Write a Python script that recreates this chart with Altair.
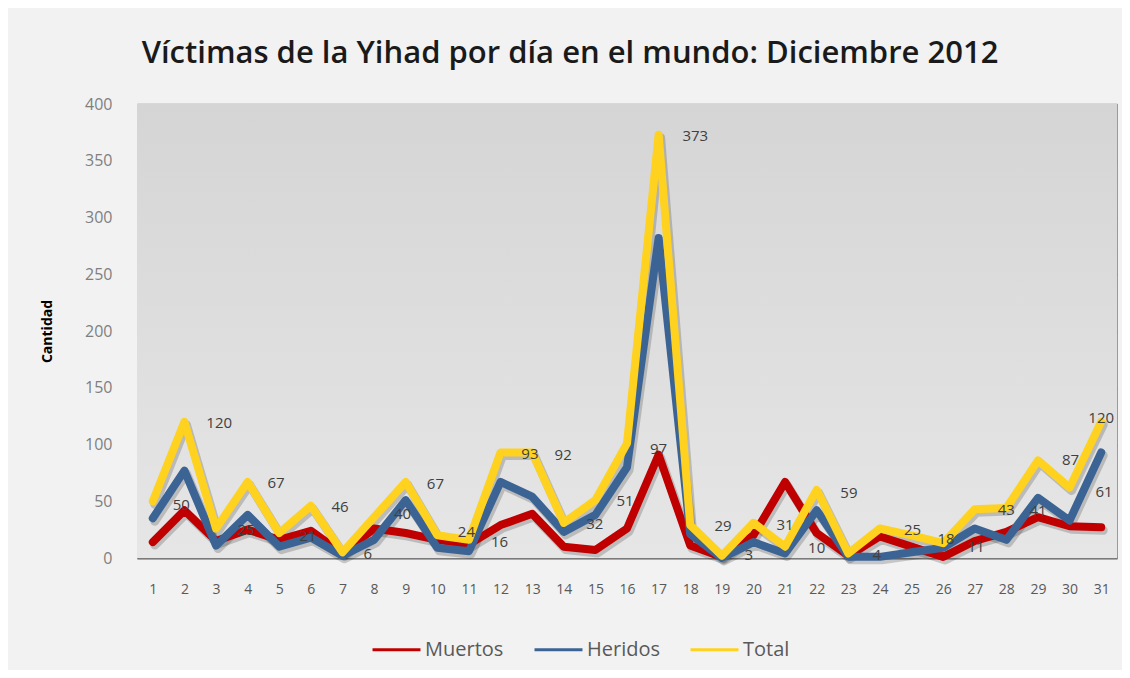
import altair as alt
import pandas as pd

days = list(range(1, 32))
muertos = [14, 42, 15, 25, 16, 24, 4, 26, 22, 16, 12, 29, 39, 10, 7, 26, 91, 11, 1, 20,
           67, 22, 2, 19, 10, 1, 15, 23, 36, 28, 27]
heridos = [35, 77, 11, 38, 10, 18, 2, 16, 51, 9, 6, 67, 54, 23, 38, 80, 282, 21, 0, 14,
           4, 42, 1, 1, 5, 9, 26, 16, 53, 33, 93]
total = [50, 120, 26, 67, 22, 46, 5, 36, 67, 20, 16, 93, 93, 31, 51, 101, 373, 29, 2, 31,
         10, 60, 4, 26, 20, 13, 43, 44, 86, 62, 120]

series_names = ["Muertos", "Heridos", "Total"]
series_colors = ["#c00000", "#3b6494", "#ffd21f"]

label_text = ["120", "50", "25", "67", "21", "46", "6", "40", "67", "24", "16", "93", "92",
              "32", "51", "97", "373", "29", "3", "31", "10", "59", "4", "25", "18", "11",
              "43", "41", "87", "61", "120"]
label_day = [3.1, 1.9, 3.95, 4.9, 5.9, 6.92, 7.8, 8.9, 9.94, 10.92, 11.97, 12.93, 13.98,
             14.98, 15.94, 17.0, 18.16, 19.04, 19.85, 21.0, 22.0, 23.02, 23.9, 25.03, 26.09,
             27.04, 28.0, 29.0, 30.03, 31.09, 31.0]
label_value = [119, 47, 25, 66, 19, 45, 3.5, 39, 65, 23, 14, 92, 91, 30, 50, 96, 372, 28,
               2.6, 29, 8.5, 57.5, 2.6, 25, 16.5, 10, 42, 41, 86, 58, 123]

y_ticks = [0, 50, 100, 150, 200, 250, 300, 350, 400]

rows = []
for name, vals in zip(series_names, [muertos, heridos, total]):
    for d, v in zip(days, vals):
        rows.append({"day": d, "value": v, "series": name})
df = pd.DataFrame(rows)
labels_df = pd.DataFrame({"day": label_day, "value": label_value, "text": label_text})

FONT = "Open Sans"

x_enc = alt.X("day:Q", scale=alt.Scale(domain=[0.5, 31.5], nice=False, zero=False),
              axis=alt.Axis(values=days, format="d", grid=False, ticks=False, title=None,
                            labelPadding=24, labelFontSize=14, labelColor="#595959",
                            labelFont=FONT, domainColor="#7a7a7a", domainWidth=2))
y_enc = alt.Y("value:Q", scale=alt.Scale(domain=[0, 400], nice=False),
              axis=alt.Axis(values=y_ticks, title="Cantidad", titleFont=FONT,
                            titleFontSize=14, titleFontWeight="bold", titleColor="#000000",
                            titlePadding=30, ticks=False, labelPadding=25, labelFontSize=16,
                            labelColor="#7f7f7f", labelFont=FONT, gridColor="#8c8c8c",
                            gridWidth=1.5, domainColor="#9a9a9a"))
color_enc = alt.Color("series:N",
                      scale=alt.Scale(domain=series_names, range=series_colors),
                      legend=alt.Legend(title=None, orient="none", legendX=234, legendY=520,
                                        direction="horizontal", symbolType="stroke",
                                        symbolSize=2300, symbolStrokeWidth=3,
                                        labelFontSize=20, labelFont=FONT,
                                        labelColor="#595959", columnPadding=24,
                                        labelOffset=3))

bg = alt.Chart(pd.DataFrame({"a": [0]})).mark_rect(
    color=alt.LinearGradient(gradient="linear",
                             stops=[alt.GradientStop(color="#d5d5d5", offset=0),
                                    alt.GradientStop(color="#e6e6e6", offset=1)],
                             x1=0, x2=0, y1=0, y2=1)
).encode(x=alt.value(0), x2=alt.value("width"), y=alt.value(0), y2=alt.value("height"))

base = alt.Chart(df)

shadow = base.mark_line(strokeWidth=9, color="#000000", opacity=0.18, xOffset=2, yOffset=3,
                        strokeJoin="round", strokeCap="round").encode(
    x=x_enc, y=y_enc, detail="series:N")

lines = []
for name in series_names:
    lines.append(
        base.transform_filter(alt.datum.series == name)
        .mark_line(strokeWidth=8, strokeJoin="round", strokeCap="round")
        .encode(x=x_enc, y=y_enc, color=color_enc)
    )

texts = alt.Chart(labels_df).mark_text(fontSize=15, font=FONT, color="#404040").encode(
    x=x_enc, y=y_enc, text="text:N")

chart = alt.layer(bg, shadow, *lines, texts).properties(
    width=980, height=454,
    padding={"left": 129, "top": 96, "right": 5, "bottom": 112},
    autosize=alt.AutoSizeParams(type="none"),
    background="#f2f2f2",
    title=alt.TitleParams("Víctimas de la Yihad por día en el mundo: Diciembre 2012",
                          font=FONT, fontSize=31, fontWeight=600, color="#1a1a1a",
                          anchor="middle", dx=-57, offset=26),
).configure_view(fill="#dadada", stroke="#9a9a9a")

chart.save("out.html", embed_options={"renderer": "svg", "actions": False})
